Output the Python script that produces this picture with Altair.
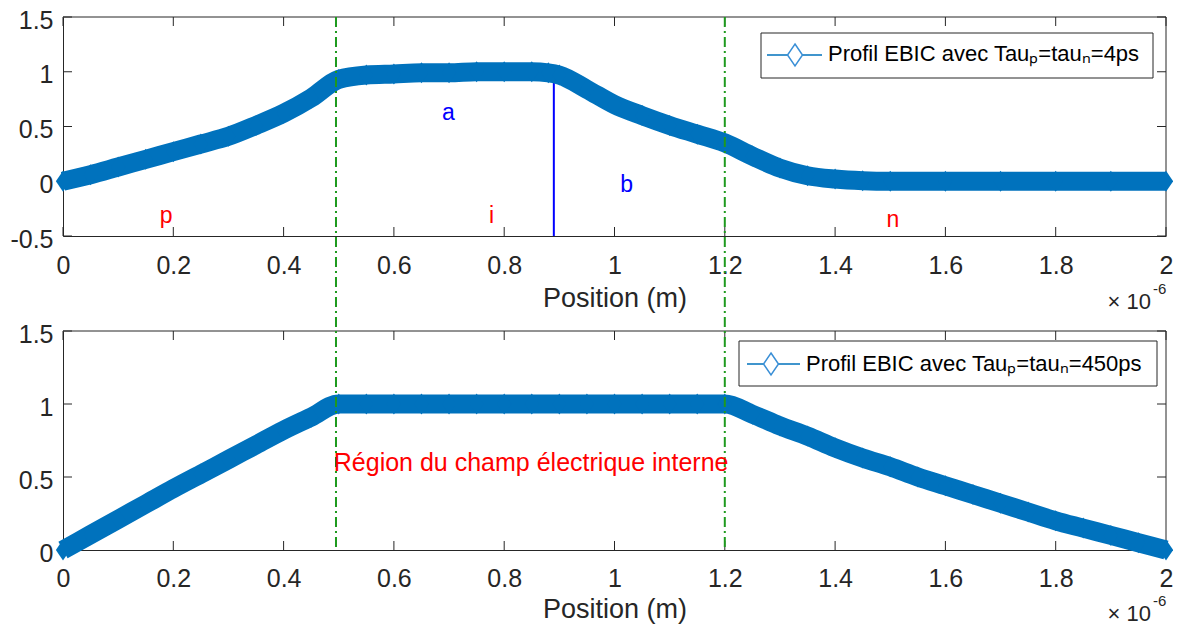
import altair as alt
import pandas as pd

# ---------------- data (position in units of 1e-6 m) ----------------
pos_top = [0.00, 0.05, 0.10, 0.15, 0.20, 0.25, 0.30, 0.35, 0.40, 0.45, 0.50,
           0.55, 0.60, 0.65, 0.70, 0.75, 0.80, 0.85, 0.88, 0.90, 0.95, 1.00,
           1.05, 1.10, 1.15, 1.20, 1.25, 1.30, 1.35, 1.40, 1.45, 1.50, 1.60,
           1.70, 1.80, 1.90, 2.00]
ebic_top = [0.00, 0.06, 0.13, 0.20, 0.27, 0.34, 0.41, 0.51, 0.62, 0.76, 0.93,
            0.97, 0.98, 0.99, 0.99, 1.00, 1.00, 1.00, 0.99, 0.97, 0.84, 0.70,
            0.60, 0.51, 0.43, 0.35, 0.23, 0.12, 0.05, 0.02, 0.005, 0.00, 0.00,
            0.00, 0.00, 0.00, 0.00]

pos_bot = [0.00, 0.05, 0.10, 0.15, 0.20, 0.25, 0.30, 0.35, 0.40, 0.45, 0.50,
           0.55, 0.60, 0.65, 0.70, 0.75, 0.80, 0.85, 0.90, 0.95, 1.00,
           1.05, 1.10, 1.15, 1.20, 1.25, 1.30, 1.35, 1.40, 1.45, 1.50,
           1.55, 1.60, 1.65, 1.70, 1.75, 1.80, 1.85, 1.90, 1.95, 2.00]
ebic_bot = [0.00, 0.105, 0.21, 0.315, 0.42, 0.52, 0.62, 0.72, 0.82, 0.91, 1.00,
            1.00, 1.00, 1.00, 1.00, 1.00, 1.00, 1.00, 1.00, 1.00, 1.00,
            1.00, 1.00, 1.00, 1.00, 0.93, 0.85, 0.78, 0.70, 0.63, 0.57,
            0.50, 0.44, 0.38, 0.32, 0.26, 0.20, 0.15, 0.10, 0.05, 0.00]

x_ticks = [0, 0.2, 0.4, 0.6, 0.8, 1.0, 1.2, 1.4, 1.6, 1.8, 2.0]
y_ticks_top = [-0.5, 0, 0.5, 1, 1.5]
y_ticks_bot = [0, 0.5, 1, 1.5]

boundaries = [0.495, 1.2]          # green dash-dot lines (region limits)
split_x = [0.89]                   # blue separator a / b
split_y0 = [-0.5]
split_y1 = [0.92]

region_text = ["p", "i", "n"]
region_x = [0.187, 0.777, 1.505]
region_y = [-0.32, -0.32, -0.355]

sub_text = ["a", "b"]
sub_x = [0.699, 1.022]
sub_y = [0.62, -0.03]

field_text = ["Région du champ électrique interne"]
field_x = [0.491]
field_y = [0.593]

legend_top = "Profil EBIC avec Tau\u209a=tau\u2099=4ps"
legend_bot = "Profil EBIC avec Tau\u209a=tau\u2099=450ps"

# ---------------- layout / style ----------------
W, H = 1103, 533
TOP_H = 219
BOT_Y0 = 314
FONT = "Liberation Sans"
DARK = "#262626"
BLUE = "#0072BD"
GREEN = "#1E9A1E"
MINUS = "\u2212"

X = alt.Scale(domain=[0, 2], range=[0, W], nice=False, zero=False)


def ytop():
    return alt.Scale(domain=[-0.5, 1.5], range=[TOP_H, 0], nice=False, zero=False)


def ybot():
    return alt.Scale(domain=[0, 1.5], range=[H, BOT_Y0], nice=False, zero=False)


common_axis = dict(grid=False, ticks=False, domainColor=DARK, domainWidth=1,
                   labelColor=DARK, labelFont=FONT, labelFontSize=25,
                   format=".1~f", labelExpr="replace(datum.label, '" + MINUS + "', '-')",
                   labelFlush=False, labelOverlap=False)


def xaxis(offset, lpad, tpad):
    return alt.Axis(values=x_ticks, orient="bottom", offset=offset, labelPadding=lpad,
                    title="Position (m)", titleFont=FONT, titleFontSize=27,
                    titleFontWeight="normal", titleColor=DARK, titlePadding=tpad,
                    **common_axis)


def yaxis(values):
    return alt.Axis(values=values, orient="left", labelPadding=10, labelOffset=3,
                    title=None, **common_axis)


def xenc(field, axis=None):
    return alt.X(field, type="quantitative", scale=X, axis=axis)


ONE = pd.DataFrame({"k": [0]})
layers = []

# ---- frame: top / right edges ----
for y0 in (0, BOT_Y0):
    layers.append(alt.Chart(ONE).mark_rule(color=DARK, strokeWidth=1).encode(
        x=alt.value(0), x2=alt.value(W), y=alt.value(y0)))
for (a, b) in ((0, TOP_H), (BOT_Y0, H)):
    layers.append(alt.Chart(ONE).mark_rule(color=DARK, strokeWidth=1).encode(
        x=alt.value(W), y=alt.value(a), y2=alt.value(b)))

# ---- inside ticks ----
df_xt = pd.DataFrame({"v": x_ticks})
for edge, d in ((0, 9), (TOP_H, -9), (BOT_Y0, 9), (H, -9)):
    layers.append(alt.Chart(df_xt).mark_rule(color=DARK, strokeWidth=1).encode(
        x=xenc("v"), y=alt.value(edge), y2=alt.value(edge + d)))
for vals, sc in ((y_ticks_top, ytop), (y_ticks_bot, ybot)):
    df_yt = pd.DataFrame({"v": vals})
    for x0, d in ((0, 9), (W, -9)):
        layers.append(alt.Chart(df_yt).mark_rule(color=DARK, strokeWidth=1).encode(
            x=alt.value(x0), x2=alt.value(x0 + d),
            y=alt.Y("v", type="quantitative", scale=sc(), axis=None)))

# ---- blue separator (under the curve) ----
df_split = pd.DataFrame({"x": split_x, "y0": split_y0, "y1": split_y1})
layers.append(alt.Chart(df_split).mark_rule(color="#0000FF", strokeWidth=2).encode(
    x=xenc("x"), y=alt.Y("y0", type="quantitative", scale=ytop(), axis=None), y2="y1"))

# ---- curves ----
DIAMOND = "M0,-1L0.68,0L0,1L-0.68,0Z"
df_top = pd.DataFrame({"x": pos_top, "y": ebic_top})
df_bot = pd.DataFrame({"x": pos_bot, "y": ebic_bot})

for df, sc, yt, ax in ((df_top, ytop, y_ticks_top, xaxis(-(H - TOP_H), 17, 7)),
                       (df_bot, ybot, y_ticks_bot, xaxis(0, 16, 5))):
    layers.append(alt.Chart(df).mark_line(color=BLUE, strokeWidth=19, strokeJoin="round",
                                          strokeCap="butt", interpolate="monotone").encode(
        x=xenc("x", ax),
        y=alt.Y("y", type="quantitative", scale=sc(), axis=yaxis(yt))))
    layers.append(alt.Chart(df).mark_point(shape=DIAMOND, filled=True, size=441, color=BLUE,
                                           opacity=1).encode(
        x=xenc("x"), y=alt.Y("y", type="quantitative", scale=sc(), axis=None)))

# ---- green region limits, spanning both panels ----
df_b = pd.DataFrame({"x": boundaries})
layers.append(alt.Chart(df_b).mark_rule(color=GREEN, strokeWidth=2,
                                        strokeDash=[10, 4, 2, 4]).encode(
    x=xenc("x"), y=alt.value(0), y2=alt.value(H)))

# ---- annotations ----
df_reg = pd.DataFrame({"t": region_text, "x": region_x, "y": region_y})
layers.append(alt.Chart(df_reg).mark_text(font=FONT, fontSize=23, color="#FF0000",
                                          align="center", baseline="middle").encode(
    x=xenc("x"), y=alt.Y("y", type="quantitative", scale=ytop(), axis=None), text="t:N"))
df_sub = pd.DataFrame({"t": sub_text, "x": sub_x, "y": sub_y})
layers.append(alt.Chart(df_sub).mark_text(font=FONT, fontSize=23, color="#0000FF",
                                          align="center", baseline="middle").encode(
    x=xenc("x"), y=alt.Y("y", type="quantitative", scale=ytop(), axis=None), text="t:N"))
df_field = pd.DataFrame({"t": field_text, "x": field_x, "y": field_y})
layers.append(alt.Chart(df_field).mark_text(font=FONT, fontSize=25, color="#FF0000",
                                            align="left", baseline="middle").encode(
    x=xenc("x"), y=alt.Y("y", type="quantitative", scale=ybot(), axis=None), text="t:N"))


# ---- legends (drawn boxes) ----
def txt(s, x, y, size, align="left", color="#000000"):
    return alt.Chart(ONE).mark_text(text=s, font=FONT, fontSize=size, color=color,
                                    align=align, baseline="middle").encode(
        x=alt.value(x), y=alt.value(y))


def legend(label, box, line, dx, text_x, text_y):
    x0, x1, y0, y1 = box
    out = [alt.Chart(ONE).mark_rect(fill="white", stroke=DARK, strokeWidth=1).encode(
        x=alt.value(x0), x2=alt.value(x1), y=alt.value(y0), y2=alt.value(y1))]
    lx0, lx1, ly = line
    out.append(alt.Chart(ONE).mark_rule(color=BLUE, strokeWidth=1.5).encode(
        x=alt.value(lx0), x2=alt.value(lx1), y=alt.value(ly)))
    out.append(alt.Chart(ONE).mark_point(shape=DIAMOND, filled=False, fill="white",
                                         fillOpacity=1, size=484, color="#3A8FD6",
                                         strokeWidth=1.5, opacity=1).encode(
        x=alt.value(dx), y=alt.value(ly)))
    out.append(txt(label, text_x, text_y, 22))
    return out


layers += legend(legend_top, (698, 1090, 16, 61), (704, 759, 38), 732, 765, 37)
layers += legend(legend_bot, (676, 1094, 324, 369), (684, 737, 347), 708, 743, 347)

# ---- x10^-6 multipliers ----
for yb in (285, 597):
    layers.append(txt("\u00d7 10", 1088, yb, 22, align="right", color=DARK))
    layers.append(txt("-6", 1090, yb - 13, 15, color=DARK))

chart = (alt.layer(*layers)
         .resolve_scale(y="independent")
         .resolve_axis(x="independent", y="independent")
         .properties(width=W, height=H, background="white",
                     autosize=alt.AutoSizeParams(type="none"),
                     padding={"left": 55, "top": 9, "right": 7, "bottom": 75})
         .configure_view(stroke=None))

chart.save("out.html", embed_options={"renderer": "svg", "actions": False})
